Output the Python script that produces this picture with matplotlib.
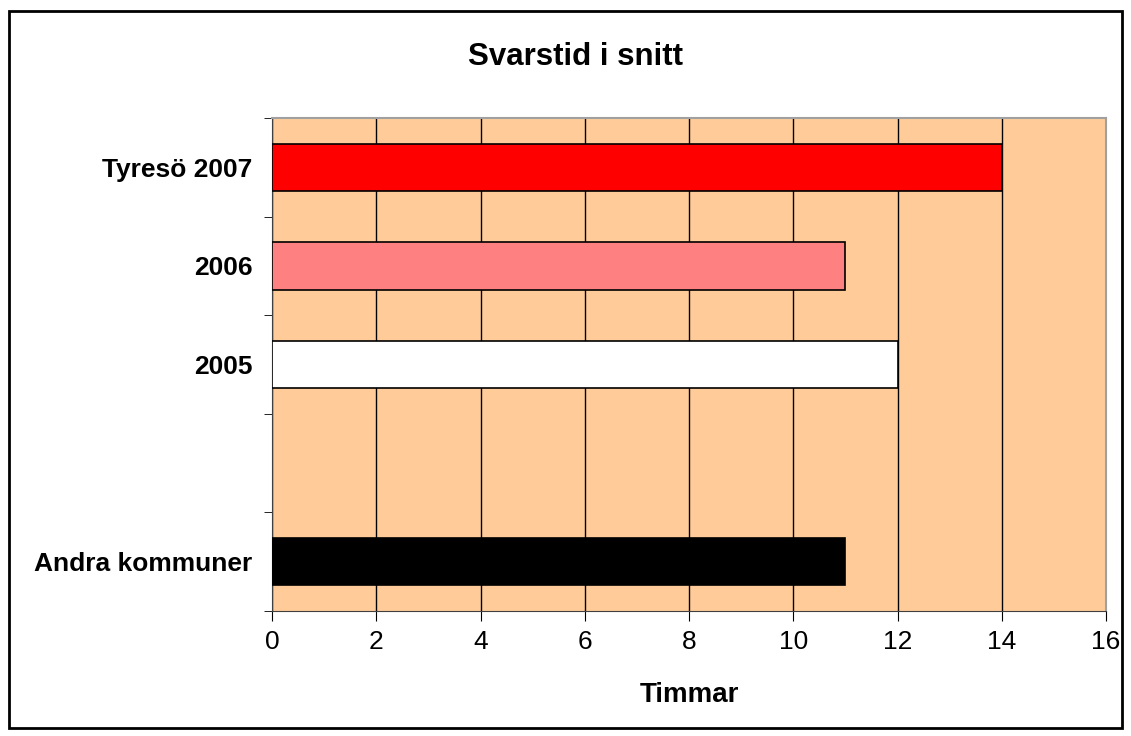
import matplotlib.pyplot as plt
import matplotlib.patches as mpatches

categories = ['Tyresö 2007', '2006', '2005', '', 'Andra kommuner']
values = [14, 11, 12, None, 11]
colors = ['#FF0000', '#FF8080', '#FFFFFF', None, '#000000']
xticks = [0, 2, 4, 6, 8, 10, 12, 14, 16]

plt.rcParams['font.family'] = ['Liberation Sans', 'DejaVu Sans']

fig = plt.figure(figsize=(11.31, 7.36), dpi=100)
ax = fig.add_axes([272 / 1131, 125 / 736, 834 / 1131, 493 / 736])
ax.set_facecolor('#FFCC99')

for i, (v, c) in enumerate(zip(values, colors)):
    if v is None:
        continue
    ax.barh(i, v, height=0.48, color=c, edgecolor='black', linewidth=1.2, zorder=3)

ax.set_xlim(0, 16)
ax.set_ylim(4.5, -0.5)
ax.set_xticks(xticks)
ax.set_xticklabels([str(t) for t in xticks], fontsize=19)
ax.xaxis.grid(True, color='black', linewidth=1)
ax.set_axisbelow(True)
ax.tick_params(axis='x', length=7, direction='out', pad=7)

ax.set_yticks(range(len(categories)))
ax.set_yticklabels(categories, fontsize=19, fontweight='bold')
ax.tick_params(axis='y', length=0, pad=14)
ax.set_yticks([i - 0.5 for i in range(len(categories) + 1)], minor=True)
ax.tick_params(axis='y', which='minor', length=6, direction='out')

for s in ['top', 'right']:
    ax.spines[s].set_color('#A0A0A0')
    ax.spines[s].set_linewidth(1.5)
for s in ['left', 'bottom']:
    ax.spines[s].set_color('#404040')

ax.set_xlabel('Timmar', fontsize=20, fontweight='bold', labelpad=20)
fig.text(576 / 1131, 1 - 57 / 736, 'Svarstid i snitt', fontsize=22.5, fontweight='bold',
         ha='center', va='center')

fig.patches.append(mpatches.Rectangle((9 / 1131, 8 / 736), 1113 / 1131, 717 / 736,
                                      transform=fig.transFigure, fill=False,
                                      edgecolor='black', linewidth=2))

fig.savefig('out.png', dpi=100)
